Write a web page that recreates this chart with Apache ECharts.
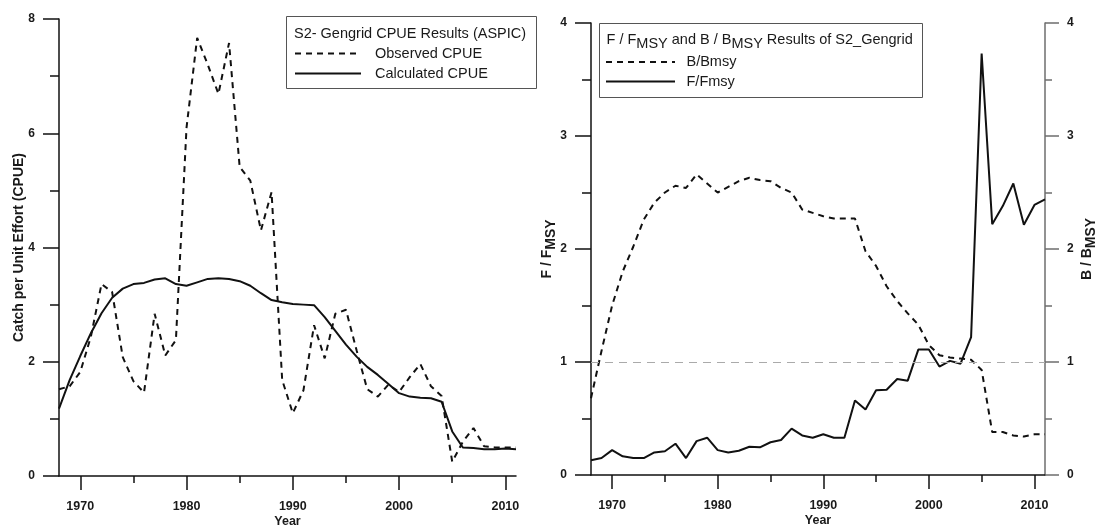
<!DOCTYPE html>
<html><head><meta charset="utf-8">
<script src="https://cdn.jsdelivr.net/npm/echarts@6/dist/echarts.min.js"></script>
<style>html,body{margin:0;padding:0;background:#fff}#c{width:1096px;height:525px}</style>
</head><body><div id="c"></div>
<script>
// ---------- data ----------
const years = [1968,1969,1970,1971,1972,1973,1974,1975,1976,1977,1978,1979,1980,1981,1982,1983,1984,1985,1986,1987,1988,1989,1990,1991,1992,1993,1994,1995,1996,1997,1998,1999,2000,2001,2002,2003,2004,2005,2006,2007,2008,2009,2010,2011];
const observedCPUE = [1.52,1.57,1.82,2.44,3.36,3.22,2.08,1.66,1.46,2.84,2.11,2.38,6.1,7.67,7.2,6.69,7.58,5.41,5.17,4.30,4.97,1.68,1.10,1.50,2.64,2.06,2.84,2.91,2.2,1.52,1.39,1.60,1.47,1.73,1.96,1.57,1.40,0.25,0.60,0.84,0.52,0.50,0.50,0.50];
const calculatedCPUE = [1.18,1.68,2.10,2.50,2.85,3.12,3.28,3.36,3.38,3.44,3.46,3.36,3.33,3.39,3.45,3.46,3.45,3.41,3.33,3.20,3.08,3.04,3.01,3.00,2.99,2.78,2.54,2.30,2.09,1.91,1.77,1.61,1.45,1.39,1.37,1.36,1.30,0.78,0.50,0.49,0.47,0.47,0.48,0.47];
const bBmsy = [0.68,1.10,1.50,1.80,2.02,2.26,2.41,2.50,2.56,2.54,2.66,2.58,2.50,2.55,2.60,2.63,2.61,2.60,2.54,2.50,2.35,2.32,2.29,2.27,2.27,2.27,1.98,1.85,1.67,1.54,1.43,1.33,1.15,1.06,1.04,1.03,1.02,0.93,0.38,0.38,0.35,0.34,0.36,0.36];
const fFmsy = [0.13,0.15,0.22,0.165,0.15,0.15,0.20,0.21,0.277,0.15,0.30,0.33,0.22,0.20,0.215,0.25,0.245,0.29,0.31,0.41,0.35,0.33,0.36,0.33,0.33,0.66,0.58,0.75,0.755,0.85,0.835,1.11,1.11,0.96,1.01,0.985,1.22,3.73,2.22,2.38,2.58,2.215,2.39,2.44];
const yearLabels = [1970,1980,1990,2000,2010];
const yearMinorTicks = [1975,1985,1995,2005];
const referenceLevel = 1;

// ---------- styling ----------
const F = 'Liberation Sans, Arial, sans-serif';
const INK = '#1a1a1a';
const axLine = {color:'#111', width:1.5};

function xMajor(g){
  return {type:'value', gridIndex:g, min:1968, max:2011, position:'bottom',
    name:'Year', nameLocation:'middle', nameGap:39, nameMoveOverlap:false,
    nameTextStyle:{fontFamily:F, fontWeight:'bold', fontSize:12.5, color:INK},
    axisLine:{show:true, onZero:false, lineStyle:axLine},
    axisTick:{show:true, customValues:yearLabels, length:14, lineStyle:axLine},
    axisLabel:{show:true, customValues:yearLabels, margin:24, formatter:v=>String(v),
      fontFamily:F, fontWeight:'bold', fontSize:12.5, color:INK},
    splitLine:{show:false}};
}
function xMinor(g){
  return {type:'value', gridIndex:g, min:1968, max:2011, position:'bottom',
    axisLine:{show:false, onZero:false},
    axisTick:{show:true, customValues:yearMinorTicks, length:7, lineStyle:axLine},
    axisLabel:{show:false}, splitLine:{show:false}};
}
function yAx(g, pos, max, interval, name, gap, color, tickLen, minorLen, rich){
  const lc = {color:color, width:1.5};
  const o = {type:'value', gridIndex:g, min:0, max:max, interval:interval, position:pos,
    name:name, nameLocation:'middle', nameGap:gap, nameMoveOverlap:false,
    nameTextStyle:{fontFamily:F, fontWeight:'bold', fontSize:14, color:INK},
    axisLine:{show:true, onZero:false, lineStyle:lc},
    axisTick:{show:true, length:tickLen, lineStyle:lc},
    minorTick:{show:true, splitNumber:2, length:minorLen, lineStyle:lc},
    axisLabel:{margin:pos==='left'?24:22, formatter:v=>String(v), fontFamily:F, fontWeight:'bold', fontSize:12, color:INK},
    splitLine:{show:false}, minorSplitLine:{show:false}};
  if (rich) o.nameTextStyle.rich = rich;
  return o;
}
const nameRich = {
  n:{fontFamily:F, fontWeight:'bold', fontSize:14, color:INK},
  s:{fontFamily:F, fontWeight:'bold', fontSize:14, color:INK, padding:[7,0,0,0]}
};
const pairs = arr => years.map((y,i)=>[y, arr[i]]);

const option = {
  animation:false,
  backgroundColor:'#fff',
  grid:[
    {left:59, top:19, width:457, height:457, containLabel:false, outerBoundsMode:'none'},
    {left:591, top:23, width:454, height:452, containLabel:false, outerBoundsMode:'none'}
  ],
  xAxis:[xMajor(0), xMinor(0), xMajor(1), xMinor(1)],
  yAxis:[
    yAx(0,'left',8,2,'Catch per Unit Effort (CPUE)',33,'#111',16,9),
    yAx(1,'left',4,1,'{n|F / F}{s|MSY}',33,'#111',16,9,nameRich),
    yAx(1,'right',4,1,'{n|B / B}{s|MSY}',32,'#6e6e6e',14,7,nameRich)
  ],
  series:[
    {name:'Observed CPUE', type:'line', xAxisIndex:0, yAxisIndex:0, data:pairs(observedCPUE),
     showSymbol:false, symbol:'none', lineStyle:{color:'#111', width:2, type:[6,5]}},
    {name:'Calculated CPUE', type:'line', xAxisIndex:0, yAxisIndex:0, data:pairs(calculatedCPUE),
     showSymbol:false, symbol:'none', lineStyle:{color:'#111', width:2, type:'solid'}},
    {name:'B/Bmsy', type:'line', xAxisIndex:2, yAxisIndex:2, data:pairs(bBmsy),
     showSymbol:false, symbol:'none', lineStyle:{color:'#111', width:2, type:[6,5]},
     markLine:{silent:true, symbol:'none', label:{show:false},
       lineStyle:{color:'#aaa', width:1, type:[8,6]}, data:[{yAxis:referenceLevel}]}},
    {name:'F/Fmsy', type:'line', xAxisIndex:2, yAxisIndex:1, data:pairs(fFmsy),
     showSymbol:false, symbol:'none', lineStyle:{color:'#111', width:2, type:'solid'}}
  ],
  graphic:[
    // left legend
    {type:'rect', z:10, shape:{x:286.5, y:16.5, width:250, height:72}, style:{fill:'#fff', stroke:'#555', lineWidth:1}},
    {type:'text', z:11, x:294, y:33.5, style:{text:'S2- Gengrid CPUE Results (ASPIC)', fontFamily:F, fontSize:14.5, fill:INK, verticalAlign:'middle'}},
    {type:'line', z:11, shape:{x1:295, y1:53.5, x2:361, y2:53.5}, style:{stroke:'#111', lineWidth:2, lineDash:[6,5]}},
    {type:'text', z:11, x:375, y:53.5, style:{text:'Observed CPUE', fontFamily:F, fontSize:14.5, fill:INK, verticalAlign:'middle'}},
    {type:'line', z:11, shape:{x1:295, y1:73.5, x2:361, y2:73.5}, style:{stroke:'#111', lineWidth:2}},
    {type:'text', z:11, x:375, y:73.5, style:{text:'Calculated CPUE', fontFamily:F, fontSize:14.5, fill:INK, verticalAlign:'middle'}},
    // right legend
    {type:'rect', z:10, shape:{x:599.5, y:23.5, width:323, height:74}, style:{fill:'#fff', stroke:'#555', lineWidth:1}},
    {type:'text', z:11, x:606.5, y:40, style:{text:'{n|F / F}{s|MSY}{n| and B / B}{s|MSY}{n| Results of S2_Gengrid}', verticalAlign:'middle',
      rich:{n:{fontFamily:F, fontSize:14.5, fill:INK}, s:{fontFamily:F, fontSize:14.5, fill:INK, padding:[7,0,0,0]}}}},
    {type:'line', z:11, shape:{x1:606, y1:62, x2:675, y2:62}, style:{stroke:'#111', lineWidth:2, lineDash:[6,5]}},
    {type:'text', z:11, x:686.5, y:62, style:{text:'B/Bmsy', fontFamily:F, fontSize:14.5, fill:INK, verticalAlign:'middle'}},
    {type:'line', z:11, shape:{x1:606, y1:81.5, x2:675, y2:81.5}, style:{stroke:'#111', lineWidth:2}},
    {type:'text', z:11, x:686.5, y:81.5, style:{text:'F/Fmsy', fontFamily:F, fontSize:14.5, fill:INK, verticalAlign:'middle'}}
  ]
};
const chart = echarts.init(document.getElementById('c'), null, {renderer:'canvas'});
chart.setOption(option);
</script>
</body></html>
